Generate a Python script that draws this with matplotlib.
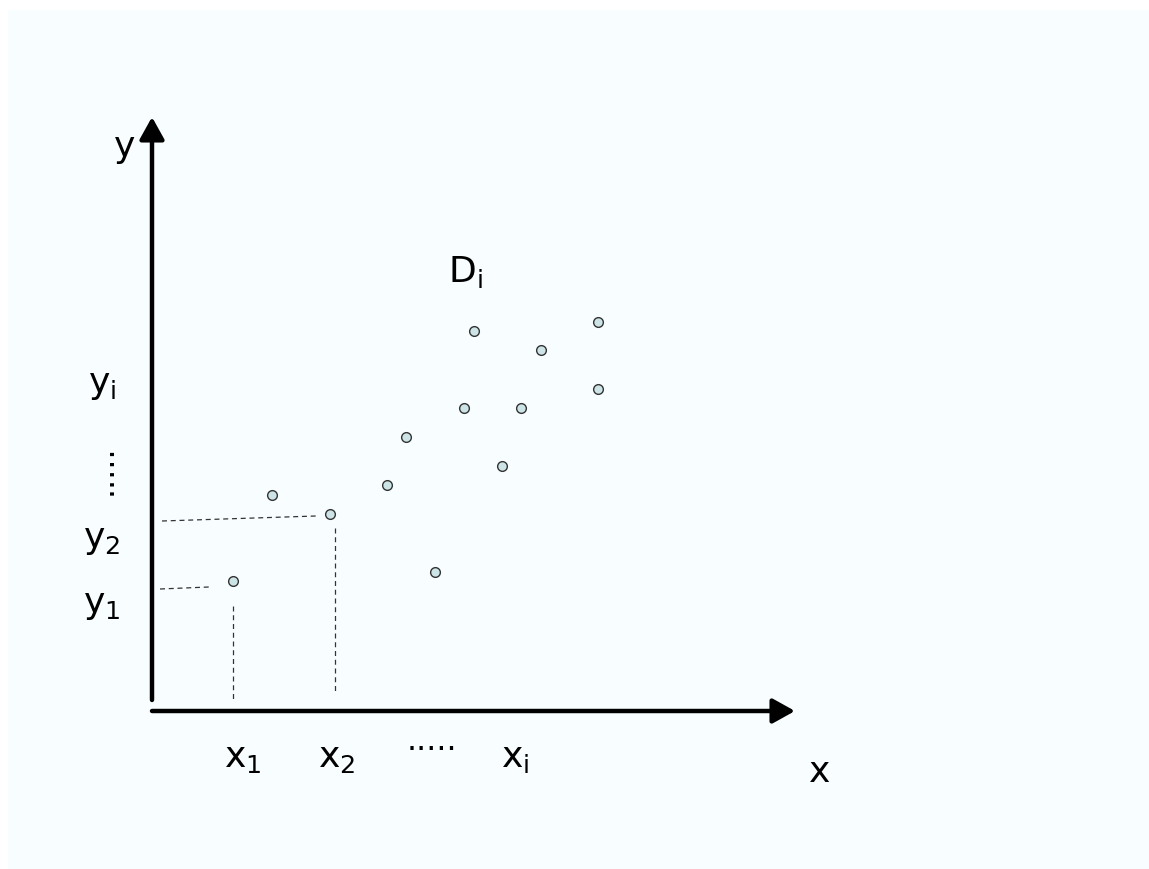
import matplotlib
matplotlib.use("Agg")
import matplotlib.pyplot as plt

# Data points D_i (x, y), origin at the axis corner
xs = [8.1, 12.0, 17.8, 23.5, 25.4, 28.3, 31.2, 32.2, 35.0, 36.9, 38.9, 44.6, 44.6]
ys = [13.0, 21.6, 19.7, 22.6, 27.4, 13.9, 30.3, 38.0, 24.5, 30.3, 36.1, 38.9, 32.2]

# Dashed guide lines: (x_start, x_end, y_start, y_end)
guides = [
    (0.8, 5.7, 12.2, 12.4),    # y1
    (1.0, 16.4, 19.0, 19.5),   # y2
    (8.1, 8.1, 10.5, 1.1),     # x1
    (18.3, 18.3, 18.3, 1.9),   # x2
]

# Labels along the axes
y_labels = [r'$\mathregular{y_i}$', r'$\mathregular{y_2}$', r'$\mathregular{y_1}$']
y_label_pos = [32.6, 17.1, 10.6]
x_labels = [r'$\mathregular{x_1}$', r'$\mathregular{x_2}$', r'$\mathregular{x_i}$']
x_label_pos = [9.1, 18.5, 36.3]

x_axis_end = 64.3
y_axis_end = 59.4

bg = '#F8FEFF'

fig = plt.figure(figsize=(11.49, 8.69), dpi=100)
fig.patch.set_facecolor('white')
ax = fig.add_axes([0, 0, 1, 1])
ax.set_xlim(-15.2, 99.7)
ax.set_ylim(-15.8, 71.1)
ax.axis('off')

# light background panel (white strip top and left)
fig.patches.append(plt.Rectangle((8 / 1149, 0), 1, 1 - 10 / 869, transform=fig.transFigure,
                                 facecolor=bg, edgecolor='none', zorder=-10))

# Axes arrows
arrow = dict(arrowstyle='-|>,head_length=0.45,head_width=0.25', lw=3.2, color='black',
             mutation_scale=30, shrinkA=0, shrinkB=0)
ax.annotate('', xy=(x_axis_end, 0), xytext=(0, 0), arrowprops=arrow)
ax.annotate('', xy=(0, y_axis_end), xytext=(0, 1.1), arrowprops=arrow)

# Guides
for x0, x1, y0, y1 in guides:
    ax.plot([x0, x1], [y0, y1], color='#333333', lw=0.9, linestyle=(0, (4, 3)))

# Points
ax.plot(xs, ys, 'o', markersize=7, markerfacecolor='#CDE4E6', markeredgecolor='#333333',
        markeredgewidth=1, linestyle='none', zorder=5)

fs = 26
ax.text(-2.7, 56.4, 'y', fontsize=fs, ha='center', va='center')
ax.text(66.8, -6.1, 'x', fontsize=fs, ha='center', va='center')
ax.text(31.3, 43.9, r'$\mathregular{D_i}$', fontsize=fs, ha='center', va='center')

for lab, yp in zip(y_labels, y_label_pos):
    ax.text(-5.0, yp, lab, fontsize=fs, ha='center', va='center')
for lab, xp in zip(x_labels, x_label_pos):
    ax.text(xp, -4.7, lab, fontsize=fs, ha='center', va='center')

ax.text(-4.9, 24.1, '.....', fontsize=23, rotation=90, ha='center', va='center')
ax.text(28.0, -3.0, '.....', fontsize=23, ha='center', va='center')

fig.savefig('out.png', dpi=100, facecolor=fig.get_facecolor())
